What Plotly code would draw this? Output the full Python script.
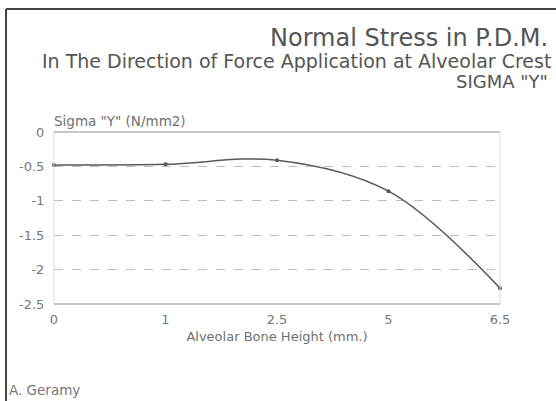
import plotly.graph_objects as go

categories = ["0", "1", "2.5", "5", "6.5"]
sigma_y = [-0.48, -0.47, -0.41, -0.86, -2.27]
y_ticks = [0, -0.5, -1, -1.5, -2, -2.5]
y_tick_labels = ["0", "-0.5", "-1", "-1.5", "-2", "-2.5"]

W, H = 556, 401
L, R, T, B = 54, 56, 132, 97
pw, ph = W - L - R, H - T - B

def px(x):
    return (x - L) / pw

def py(y):
    return (H - B - y) / ph

fig = go.Figure()
fig.add_trace(go.Scatter(
    x=list(range(len(categories))), y=sigma_y, mode="lines+markers",
    line=dict(color="#5a5a5a", width=1.5, shape="spline", smoothing=1.0),
    marker=dict(color="#555555", size=4),
    cliponaxis=False,
    showlegend=False,
))

font = "DejaVu Sans, Verdana, sans-serif"
fig.update_layout(
    width=W, height=H,
    margin=dict(l=L, r=R, t=T, b=B),
    paper_bgcolor="white", plot_bgcolor="white",
    font=dict(family=font, color="#777777", size=12),
    xaxis=dict(
        range=[0, len(categories) - 1],
        tickvals=list(range(len(categories))), ticktext=categories,
        showgrid=False, zeroline=False, showline=False,
        ticks="outside", ticklen=3, tickcolor="rgba(0,0,0,0)",
        tickfont=dict(size=13, color="#777777"),
        title=dict(text="Alveolar Bone Height (mm.)", font=dict(size=13, color="#707070"), standoff=6),
    ),
    yaxis=dict(
        range=[-2.5, 0],
        tickvals=y_ticks, ticktext=y_tick_labels,
        showgrid=True, gridcolor="#bdbdbd", griddash="dash", gridwidth=1,
        zeroline=False, showline=False,
        ticks="outside", ticklen=6, tickcolor="rgba(0,0,0,0)",
        tickfont=dict(size=13, color="#777777"),
    ),
    shapes=[
        dict(type="rect", xref="paper", yref="paper", x0=0, x1=1, y0=0, y1=1,
             line=dict(color="#dddddd", width=1)),
        dict(type="line", xref="paper", yref="paper", x0=0, x1=1, y0=1, y1=1,
             line=dict(color="#bbbbbb", width=1.5)),
        dict(type="line", xref="paper", yref="paper", x0=0, x1=1, y0=0, y1=0,
             line=dict(color="#bbbbbb", width=1.5)),
        dict(type="line", xref="paper", yref="paper", x0=px(6), x1=px(560), y0=py(9), y1=py(9),
             line=dict(color="#444444", width=2)),
        dict(type="line", xref="paper", yref="paper", x0=px(6), x1=px(6), y0=py(9), y1=py(405),
             line=dict(color="#444444", width=2)),
    ],
    annotations=[
        dict(text="Normal Stress in P.D.M.", xref="paper", yref="paper", x=px(550), y=py(38),
             xanchor="right", yanchor="middle", showarrow=False,
             font=dict(size=24, color="#555555", family=font)),
        dict(text="In The Direction of Force Application at Alveolar Crest", xref="paper", yref="paper",
             x=px(553), y=py(61), xanchor="right", yanchor="middle", showarrow=False,
             font=dict(size=19, color="#555555", family=font)),
        dict(text='SIGMA "Y"', xref="paper", yref="paper", x=px(550), y=py(82),
             xanchor="right", yanchor="middle", showarrow=False,
             font=dict(size=18, color="#555555", family=font)),
        dict(text='Sigma "Y" (N/mm2)', xref="paper", yref="paper", x=px(52), y=py(121),
             xanchor="left", yanchor="middle", showarrow=False,
             font=dict(size=13.5, color="#707070", family=font)),
        dict(text="A. Geramy", xref="paper", yref="paper", x=px(7), y=py(390),
             xanchor="left", yanchor="middle", showarrow=False,
             font=dict(size=13.5, color="#777777", family=font)),
    ],
)

fig.write_html("out.html", config={"displayModeBar": False},
               post_script="document.body.style.margin='0';")
